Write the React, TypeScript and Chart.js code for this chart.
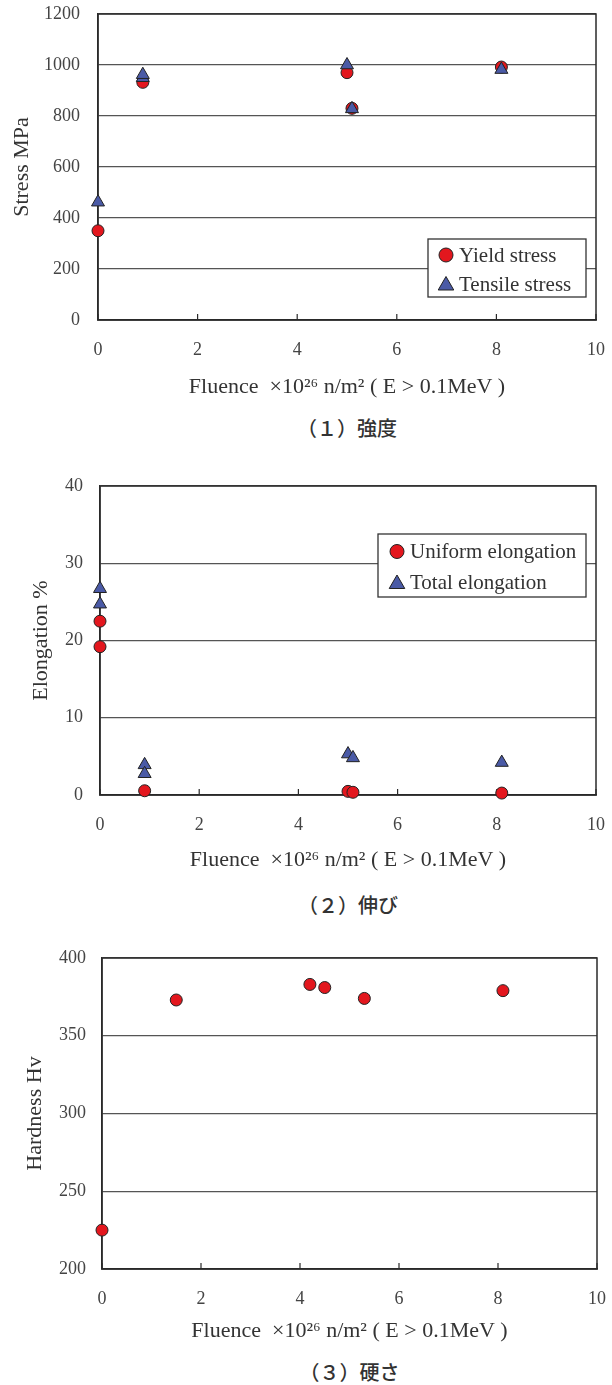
import React, { useEffect, useRef } from "react";
import { Chart, registerables } from "chart.js";

Chart.register(...registerables);

// ---------- data ----------
const xTickLabels = ["0", "2", "4", "6", "8", "10"];
const xAxisTitle = "Fluence  ×10²⁶ n/m² ( E > 0.1MeV )";

// (1) strength
const yieldX = [0, 0.9, 5.0, 5.1, 8.1];
const yieldY = [350, 932, 970, 830, 992];
const tensileX = [0, 0.9, 0.9, 5.0, 5.1, 8.1];
const tensileY = [462, 950, 962, 1000, 828, 982];
const stressTicks = [0, 200, 400, 600, 800, 1000, 1200];

// (2) elongation
const uniformX = [0, 0, 0.9, 5.0, 5.1, 8.1];
const uniformY = [22.5, 19.2, 0.55, 0.47, 0.35, 0.25];
const totalX = [0, 0, 0.9, 0.9, 5.0, 5.1, 8.1];
const totalY = [26.7, 24.7, 3.9, 2.75, 5.3, 4.8, 4.2];
const elongTicks = [0, 10, 20, 30, 40];

// (3) hardness
const hardX = [0, 1.5, 4.2, 4.5, 5.3, 8.1];
const hardY = [225, 373, 383, 381, 374, 379];
const hardTicks = [200, 250, 300, 350, 400];

const captions = ["（１）強度", "（２）伸び", "（３）硬さ"];

// ---------- styles ----------
const RED = "#e3171e";
const BLUE = "#4a5aa6";
const EDGE = "#222222";
const SERIF = "'Liberation Serif', 'DejaVu Serif', serif";

const toPts = (xs: number[], ys: number[]) => xs.map((x, i) => ({ x, y: ys[i] }));

const framePlugin = {
  id: "frameAndTicks",
  beforeDatasetsDraw(chart: any) {
    const { ctx, chartArea } = chart;
    const xs = chart.scales.x;
    ctx.save();
    ctx.strokeStyle = "#2a2a2a";
    ctx.lineWidth = 1.5;
    ctx.strokeRect(chartArea.left, chartArea.top, chartArea.right - chartArea.left, chartArea.bottom - chartArea.top);
    ctx.lineWidth = 1.2;
    xs.ticks.forEach((t: any) => {
      const px = xs.getPixelForValue(t.value);
      ctx.beginPath();
      ctx.moveTo(px, chartArea.bottom);
      ctx.lineTo(px, chartArea.bottom - 6);
      ctx.stroke();
    });
    ctx.restore();
  },
};

function drawMarker(ctx: CanvasRenderingContext2D, style: string, x: number, y: number, r: number, fill: string) {
  ctx.beginPath();
  if (style === "triangle") {
    let rad = 0;
    ctx.moveTo(x + Math.sin(rad) * r, y - Math.cos(rad) * r);
    rad += (2 * Math.PI) / 3;
    ctx.lineTo(x + Math.sin(rad) * r, y - Math.cos(rad) * r);
    rad += (2 * Math.PI) / 3;
    ctx.lineTo(x + Math.sin(rad) * r, y - Math.cos(rad) * r);
    ctx.closePath();
  } else {
    ctx.arc(x, y, r, 0, Math.PI * 2);
  }
  ctx.fillStyle = fill;
  ctx.fill();
  ctx.strokeStyle = EDGE;
  ctx.lineWidth = 1;
  ctx.stroke();
}

const boxLegendPlugin = {
  id: "boxLegend",
  afterDraw(chart: any, _args: any, opts: any) {
    if (!opts || !opts.show) return;
    const { ctx } = chart;
    ctx.save();
    ctx.fillStyle = "#ffffff";
    ctx.fillRect(opts.left, opts.top, opts.width, opts.height);
    ctx.strokeStyle = "#333333";
    ctx.lineWidth = 1.3;
    ctx.strokeRect(opts.left, opts.top, opts.width, opts.height);
    ctx.font = `21px ${SERIF}`;
    ctx.textBaseline = "middle";
    ctx.textAlign = "left";
    chart.data.datasets.forEach((ds: any, i: number) => {
      const cy = opts.top + opts.firstRow + i * opts.rowGap;
      const isTri = ds.pointStyle === "triangle";
      drawMarker(ctx, ds.pointStyle, opts.left + opts.markerX, cy + (isTri ? 1.5 : 0), isTri ? 9 : 7, ds.backgroundColor);
      ctx.fillStyle = "#333333";
      ctx.fillText(ds.label, opts.left + opts.textX, cy + 1);
    });
    ctx.restore();
  },
};

interface Spec {
  top: number;
  height: number;
  plotTop: number;
  plotLeft: number;
  plotRight: number;
  xHeight: number;
  yLabelPad: number;
  yTitlePad: number;
  yTitle: string;
  yTicks: number[];
  datasets: any[];
  legend: any;
  captionY: number;
  caption: string;
}

const makeDataset = (label: string, pts: { x: number; y: number }[], style: string, color: string, order: number) => ({
  label,
  data: pts,
  pointStyle: style,
  backgroundColor: color,
  borderColor: EDGE,
  borderWidth: 1,
  pointRadius: style === "triangle" ? 7.5 : 6,
  pointHoverRadius: style === "triangle" ? 7.5 : 6,
  showLine: false,
  clip: false,
  order,
});

const specs: Spec[] = [
  {
    top: 0,
    height: 405,
    plotTop: 14,
    plotLeft: 98,
    plotRight: 596,
    xHeight: 85,
    yLabelPad: 18,
    yTitlePad: 9,
    yTitle: "Stress MPa",
    yTicks: stressTicks,
    datasets: [
      makeDataset("Yield stress", toPts(yieldX, yieldY), "circle", RED, 2),
      makeDataset("Tensile stress", toPts(tensileX, tensileY), "triangle", BLUE, 1),
    ],
    legend: { show: true, left: 428, top: 239, width: 158, height: 58, firstRow: 16, rowGap: 29, markerX: 18, textX: 31 },
    captionY: 428,
    caption: captions[0],
  },
  {
    top: 450,
    height: 428,
    plotTop: 36,
    plotLeft: 100,
    plotRight: 596,
    xHeight: 83,
    yLabelPad: 17,
    yTitlePad: 28,
    yTitle: "Elongation %",
    yTicks: elongTicks,
    datasets: [
      makeDataset("Uniform elongation", toPts(uniformX, uniformY), "circle", RED, 2),
      makeDataset("Total elongation", toPts(totalX, totalY), "triangle", BLUE, 1),
    ],
    legend: { show: true, left: 378, top: 84, width: 208, height: 63, firstRow: 17.5, rowGap: 31, markerX: 19, textX: 32 },
    captionY: 905,
    caption: captions[1],
  },
  {
    top: 900,
    height: 449,
    plotTop: 58,
    plotLeft: 102,
    plotRight: 597,
    xHeight: 80,
    yLabelPad: 16,
    yTitlePad: 22,
    yTitle: "Hardness Hv",
    yTicks: hardTicks,
    datasets: [makeDataset("Hardness", toPts(hardX, hardY), "circle", RED, 1)],
    legend: { show: false },
    captionY: 1372,
    caption: captions[2],
  },
];

function ScatterPanel({ spec }: { spec: Spec }) {
  const ref = useRef<HTMLCanvasElement | null>(null);
  useEffect(() => {
    if (!ref.current) return;
    const yt = spec.yTicks;
    const chart = new Chart(ref.current, {
      type: "scatter",
      data: { datasets: spec.datasets },
      plugins: [framePlugin, boxLegendPlugin],
      options: {
        animation: false,
        responsive: false,
        events: [],
        layout: { padding: { top: spec.plotTop, left: 0, right: 612 - spec.plotRight, bottom: 0 } },
        plugins: {
          legend: { display: false },
          tooltip: { enabled: false },
          boxLegend: spec.legend,
        } as any,
        scales: {
          x: {
            type: "linear",
            min: 0,
            max: 10,
            afterFit: (s: any) => {
              s.height = spec.xHeight;
              s.paddingLeft = 0;
              s.paddingRight = 0;
            },
            afterBuildTicks: (s: any) => {
              s.ticks = xTickLabels.map((l) => ({ value: Number(l) }));
            },
            ticks: {
              padding: 19,
              color: "#444",
              font: { family: SERIF, size: 18 },
              callback: (v: any) => xTickLabels[xTickLabels.indexOf(String(v))] ?? "",
            },
            grid: { display: false, drawTicks: false },
            border: { display: true, color: "#2a2a2a", width: 1.5 },
            title: {
              display: true,
              text: xAxisTitle,
              color: "#333",
              font: { family: SERIF, size: 22 },
              padding: { top: 0, bottom: 5 },
            },
          },
          y: {
            type: "linear",
            min: yt[0],
            max: yt[yt.length - 1],
            afterFit: (s: any) => {
              s.width = spec.plotLeft;
              s.paddingTop = 0;
              s.paddingBottom = 0;
            },
            afterBuildTicks: (s: any) => {
              s.ticks = yt.map((v) => ({ value: v }));
            },
            ticks: {
              padding: spec.yLabelPad,
              color: "#444",
              font: { family: SERIF, size: 18 },
              callback: (v: any) => String(v),
            },
            grid: { display: true, drawTicks: false, color: "#555", lineWidth: 1.3 },
            border: { display: true, color: "#2a2a2a", width: 1.5 },
            title: {
              display: true,
              text: spec.yTitle,
              color: "#333",
              font: { family: SERIF, size: 22 },
              padding: { top: spec.yTitlePad, bottom: 0 },
            },
          },
        },
      } as any,
    });
    return () => chart.destroy();
  }, [spec]);
  return (
    <>
      <canvas
        ref={ref}
        width={612}
        height={spec.height}
        style={{ position: "absolute", left: 0, top: spec.top, width: 612, height: spec.height }}
      />
      <div
        style={{
          position: "absolute",
          left: spec.plotLeft,
          width: spec.plotRight - spec.plotLeft,
          top: spec.captionY - 14,
          height: 28,
          lineHeight: "28px",
          textAlign: "center",
          fontFamily: "'Noto Sans CJK JP', sans-serif",
          fontSize: 20,
          fontWeight: 500,
          color: "#333",
        }}
      >
        {spec.caption}
      </div>
    </>
  );
}

export default function App() {
  return (
    <div style={{ position: "absolute", left: 0, top: 0, width: 612, height: 1385, background: "#fff", overflow: "hidden" }}>
      {specs.map((s, i) => (
        <ScatterPanel key={i} spec={s} />
      ))}
    </div>
  );
}
